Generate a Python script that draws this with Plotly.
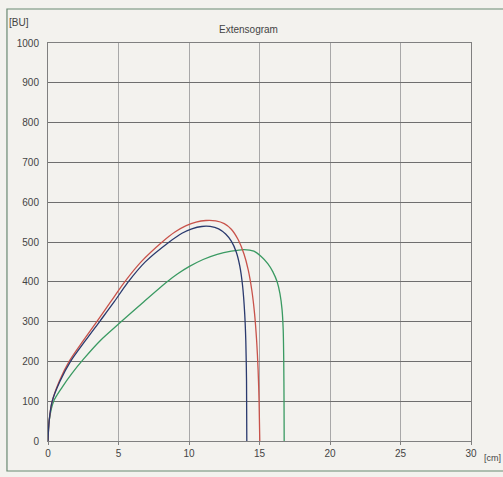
import plotly.graph_objects as go

# Extensogram data (x in cm, y in BU)
red_x = [0, 0.08, 0.3, 0.8, 1.5, 2.5, 3.5, 4.45, 5.4, 6.6, 8.1, 9.0, 9.8, 10.5, 11.2, 11.9, 12.5, 13.0, 13.5, 13.9, 14.2, 14.45, 14.65, 14.8, 14.9, 14.97, 15.02]
red_y = [0, 50, 100, 150, 200, 252, 302, 350, 398, 450, 500, 525, 541, 550, 554, 553, 546, 532, 505, 470, 430, 380, 320, 250, 180, 100, 0]

blue_x = [0, 0.08, 0.3, 0.85, 1.6, 2.65, 3.7, 4.7, 5.65, 6.9, 8.6, 9.5, 10.2, 10.9, 11.5, 12.1, 12.6, 13.0, 13.35, 13.6, 13.8, 13.95, 14.03, 14.08, 14.1]
blue_y = [0, 50, 100, 150, 200, 252, 302, 350, 398, 450, 500, 522, 533, 539, 539, 533, 520, 502, 475, 440, 390, 320, 250, 150, 0]

green_x = [0, 0.08, 0.4, 1.0, 1.7, 2.5, 3.7, 5.2, 6.8, 8.45, 9.2, 10.0, 11.0, 12.0, 13.0, 13.9, 14.6, 15.1, 15.6, 15.95, 16.25, 16.45, 16.6, 16.68, 16.72, 16.74, 16.75]
green_y = [0, 50, 100, 135, 170, 205, 252, 300, 350, 400, 420, 438, 456, 469, 477, 481, 477, 464, 445, 425, 400, 370, 330, 280, 200, 100, 0]

x_ticks = [0, 5, 10, 15, 20, 25, 30]
y_ticks = [0, 100, 200, 300, 400, 500, 600, 700, 800, 900, 1000]

title_text = "Extensogram"
y_unit = "[BU]"
x_unit = "[cm]"

FONT = "Liberation Sans Narrow, Arial Narrow, Liberation Sans, sans-serif"
PAPER = "#f3f2ee"
TXT = "#444444"

fig = go.Figure()
for xs, ys, col in [(green_x, green_y, "#3a9a62"),
                    (red_x, red_y, "#c8524a"),
                    (blue_x, blue_y, "#2a3a6e")]:
    fig.add_trace(go.Scatter(x=xs, y=ys, mode="lines",
                             line=dict(color=col, width=1.3, shape="spline", smoothing=0.8),
                             showlegend=False, hoverinfo="skip"))

fig.update_layout(
    width=503, height=477,
    margin=dict(l=48, r=32, t=43, b=36),
    paper_bgcolor=PAPER, plot_bgcolor=PAPER,
    font=dict(family=FONT, size=10, color=TXT),
    xaxis=dict(range=[0, 30], tickvals=x_ticks, showgrid=True, gridcolor="#a8a8a8",
               gridwidth=1, zeroline=False, showline=True, linecolor="#808080",
               mirror=True, ticks="outside", ticklen=3, tickcolor="#808080",
               tickfont=dict(size=10, family=FONT, color=TXT)),
    yaxis=dict(range=[0, 1000], tickvals=y_ticks, showgrid=True, gridcolor="#6e6e6e",
               gridwidth=1.3, zeroline=False, showline=True, linecolor="#808080",
               mirror=True, ticks="", ticklabelstandoff=6,
               tickfont=dict(size=10, family=FONT, color=TXT)),
    shapes=[
        dict(type="rect", xref="paper", yref="paper", x0=-0.097, x1=1.2,
             y0=-0.0754, y1=1.0854, line=dict(color="#6a8a72", width=1.2),
             fillcolor="rgba(0,0,0,0)", layer="below"),
        dict(type="line", xref="x", yref="paper", x0=x_ticks[1], x1=x_ticks[1],
             y0=0, y1=1, line=dict(color="#c49290", width=1), layer="below"),
    ],
    annotations=[
        dict(text=title_text, xref="paper", yref="paper", x=0.473, y=1.053,
             showarrow=False, font=dict(size=10, family=FONT, color=TXT)),
        dict(text=y_unit, xref="paper", yref="paper", x=-0.097, y=1.07,
             xanchor="left", showarrow=False, font=dict(size=10, family=FONT, color=TXT)),
        dict(text=x_unit, xref="paper", yref="paper", x=1.026, y=-0.06,
             xanchor="left", showarrow=False, font=dict(size=9, family=FONT, color=TXT)),
    ],
)

fig.write_html("out.html")
